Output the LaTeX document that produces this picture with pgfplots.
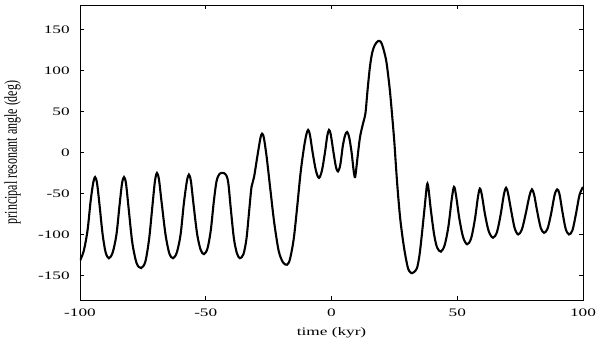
\documentclass[border=0pt]{standalone}
\usepackage{fontspec}
\setmainfont{Liberation Serif}
\usepackage{pgfplots}
\pgfplotsset{compat=1.18}

\begin{document}
\begin{tikzpicture}
\useasboundingbox (-80pt,-43pt) rectangle (520pt,300pt);
\begin{axis}[
    at={(0,0)}, anchor=south west,
    scale only axis,
    width=503pt, height=295pt,
    xmin=-100, xmax=100, ymin=-180, ymax=180,
    xtick={-100,-50,0,50,100},
    ytick={-150,-100,-50,0,50,100,150},
    tick align=inside,
    major tick length=4pt,
    axis line style={line width=0.8pt},
    tick style={line width=0.6pt, black},
    /pgf/number format/assume math mode=true,
    tick label style={font=\fontsize{11.5}{13}\selectfont, inner sep=0pt},
    xticklabel style={anchor=center, yshift=-13pt, xscale=1.5},
    yticklabel style={anchor=east, xshift=-10pt, xscale=1.5},
    xlabel={time (kyr)},
    ylabel={principal resonant angle (deg)},
    xlabel style={at={(axis description cs:0.5,-0.112)}, anchor=center,
        font=\fontsize{11.5}{13}\selectfont, inner sep=0pt, xscale=1.5},
    ylabel style={at={(axis description cs:-0.134,0.5)}, anchor=center,
        font=\fontsize{12}{14}\selectfont, inner sep=0pt,
        rotate=-90, xscale=1.5, rotate=90},
]
\addplot[black, line width=2.1pt, smooth, tension=0.5] coordinates {
(-100,-132) (-98.5,-120) (-97,-95) (-95.8,-60) (-94.8,-38) (-94,-30)
(-93.2,-38) (-92.2,-65) (-91,-100) (-89.8,-122) (-88.5,-129)
(-87,-122) (-85.5,-100) (-84.3,-65) (-83.3,-38) (-82.5,-30)
(-81.7,-38) (-80.6,-70) (-79.2,-110) (-77.5,-135) (-75.7,-141)
(-74,-133) (-72.5,-105) (-71.2,-65) (-70.2,-35) (-69.4,-25)
(-68.6,-33) (-67.5,-62) (-66,-100) (-64.5,-123) (-63,-129)
(-61.5,-122) (-60,-100) (-58.7,-62) (-57.5,-35) (-56.7,-27)
(-55.9,-35) (-54.8,-65) (-53.4,-100) (-52,-119) (-50.7,-124)
(-49.3,-117) (-48,-95) (-46.8,-60) (-45.7,-35) (-44.5,-26) (-43,-25)
(-41.8,-28) (-41,-38) (-40,-70) (-38.8,-105) (-37.6,-123) (-36.4,-129)
(-35,-124) (-33.8,-105) (-32.7,-70) (-31.8,-42) (-30.8,-30)
(-29.5,-5) (-28.3,17) (-27.6,23) (-26.9,18) (-25.8,-5) (-24.5,-40)
(-22.8,-85) (-21,-120) (-19.3,-134) (-17.7,-137)
(-16.5,-130) (-15,-105) (-13.6,-65) (-12.3,-25) (-11,5) (-10,22) (-9.3,27.5)
(-8.6,22) (-7.5,0) (-6.2,-22) (-5,-31)
(-3.8,-22) (-2.6,0) (-1.7,20) (-1,27.5)
(-0.3,22) (0.8,0) (1.8,-18) (2.6,-23)
(3.5,-15) (4.5,8) (5.4,21) (6.2,25)
(7,19) (8,0) (8.8,-22) (9.4,-30)
(10.2,-10) (11.3,18) (12.5,35) (13.5,48) (14.3,75) (15.3,105) (16.2,122)
(17.2,131) (18.5,136) (19.6,135) (20.5,128) (21.7,113) (22.5,95)
(23.3,73) (24.2,42) (25,12) (25.7,-20) (26.4,-49) (27.3,-80) (28.4,-107)
(29.5,-128) (30.5,-142) (31.6,-147) (32.8,-146) (34,-141)
(35,-125) (36,-98) (37,-68) (38,-39)
(38.6,-45) (39.5,-70) (40.8,-100) (42,-116) (43.5,-121)
(45,-113) (46.5,-90) (47.8,-57) (48.7,-42)
(49.5,-52) (50.8,-80) (52.3,-103) (53.9,-112)
(55.5,-105) (57,-82) (58.2,-55) (59,-44)
(59.8,-52) (61,-75) (62.5,-96) (64.2,-104)
(65.8,-97) (67.3,-75) (68.5,-52) (69.4,-43)
(70.2,-50) (71.5,-72) (72.8,-92) (74.2,-100)
(75.7,-94) (77.2,-75) (78.7,-53) (79.7,-45)
(80.6,-52) (81.8,-72) (83.2,-92) (84.5,-98)
(85.9,-93) (87.3,-75) (88.7,-52) (89.7,-45)
(90.6,-50) (91.8,-72) (93.1,-93) (94.4,-100)
(95.8,-95) (97.2,-75) (98.6,-52) (100,-42)
};
\end{axis}
\end{tikzpicture}
\end{document}
